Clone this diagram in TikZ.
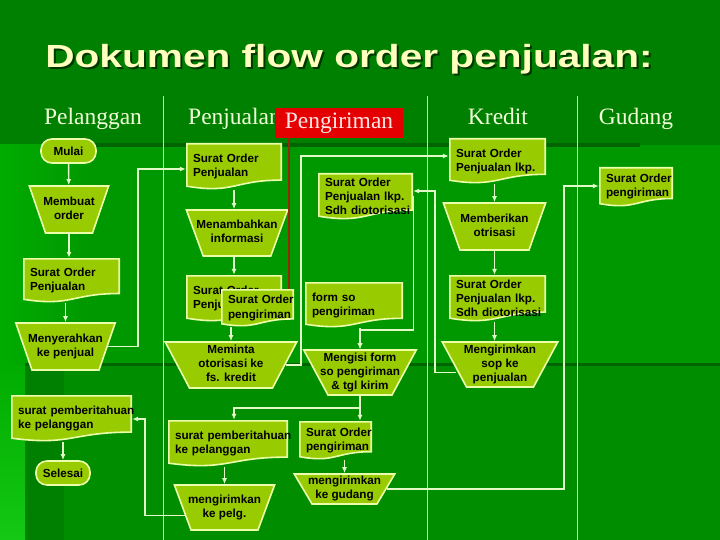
\documentclass[tikz,border=0pt]{standalone}
\usepackage{fontspec}
\setsansfont{Liberation Sans}
\newfontfamily\headfont{Liberation Serif}
\usepackage{graphicx}
\usepackage{xcolor}
\usepackage{tikz}
\usetikzlibrary{arrows.meta, positioning, shapes.geometric, calc}

\definecolor{boxfill}{RGB}{153,204,0}
\definecolor{boxline}{RGB}{235,255,170}
\definecolor{wire}{RGB}{225,250,200}
\definecolor{laneline}{RGB}{200,235,140}
\definecolor{headtxt}{RGB}{240,255,215}
\definecolor{titletxt}{RGB}{255,255,190}
\definecolor{titleshade}{RGB}{0,55,0}
\definecolor{redbox}{RGB}{228,0,0}
\definecolor{redtxt}{RGB}{255,228,228}
\definecolor{pointer}{RGB}{150,40,10}
\definecolor{bgtop}{RGB}{0,128,0}
\definecolor{bgbody}{RGB}{0,152,0}
\definecolor{bglow}{RGB}{0,142,0}
\definecolor{bgdeep}{RGB}{0,128,0}
\definecolor{bgleft}{RGB}{0,172,0}
\definecolor{bgbright}{RGB}{20,200,20}
\definecolor{bgstripe}{RGB}{0,100,0}

% text of a process box, centred on a box as wide as its short side
\newcommand\midtext[2]{\hbox to #1{\hss\begin{tabular}{@{}c@{}}#2\end{tabular}\hss}}

\begin{document}
\begin{tikzpicture}[
    x=1pt, y=-1pt,
    boxtext/.style={font=\sffamily\bfseries\fontsize{11.7}{14}\selectfont, text=black},
    docpath/.style={fill=boxfill, draw=boxline, line width=1.6pt},
    doc/.style n args={3}{rectangle, boxtext, minimum width=#1, minimum height=#2,
      text width=#3, align=left, inner xsep=7pt, inner ysep=0pt,
      execute at begin node={\hyphenpenalty=10000\exhyphenpenalty=10000},
      path picture={
        \coordinate (pa) at ([shift={(0.8pt,-0.8pt)}]path picture bounding box.north west);
        \coordinate (pb) at ([shift={(-0.8pt,0.8pt)}]path picture bounding box.south east);
        \coordinate (pc) at (pa -| pb);
        \coordinate (pd) at (pa |- pb);
        \coordinate (pt) at ($(pa)!0.5!(pc)$);
        \coordinate (pm) at ($(pd)!0.5!(pb)$);
        \filldraw[docpath] (pa) -- (pc) -- ($(pc)!0.8!(pb)$)
          .. controls ($(pt)!0.8!(pm)$) and ($(pt)!1.107!(pm)$) .. ($(pa)!0.934!(pd)$) -- cycle;
      }},
    proc/.style 2 args={trapezium, trapezium stretches=true, shape border rotate=180,
      minimum width=#1, minimum height=#2, inner sep=0pt, boxtext,
      fill=boxfill, draw=boxline, line width=1.6pt},
    term/.style 2 args={rectangle, rounded corners=11pt, minimum width=#1, minimum height=#2,
      inner sep=0pt, boxtext, fill=boxfill, draw=boxline, line width=1.6pt},
    flow/.style={draw=wire, line width=1.4pt, -{Latex[length=6pt,width=5pt]}},
    lane/.style={draw=laneline, line width=0.8pt},
    head/.style={font=\headfont\fontsize{23.5}{26}\selectfont, text=headtxt, inner sep=0pt, anchor=base},
    redhead/.style={font=\headfont\fontsize{23.5}{26}\selectfont, text=redtxt, fill=redbox,
      minimum width=128pt, minimum height=30pt, inner sep=0pt},
    judul/.style={font=\sffamily\bfseries\fontsize{32}{36}\selectfont, inner sep=0pt, anchor=base}
  ]
  \useasboundingbox (0,0) rectangle (720,540);

  \fill[bgtop] (0,0) rectangle (720,540);
  \fill[bgbody] (0,145) rectangle (720,540);
  \shade[left color=bgleft, right color=bgbody] (0,145) rectangle (90,365);
  \fill[bglow] (25,365) rectangle (720,540);
  \fill[bgdeep] (25,365) rectangle (64,540);
  \shade[top color=bgleft, bottom color=bgbright] (0,365) rectangle (25,540);
  \fill[bgstripe] (92,143) rectangle (640,147);
  \fill[bgstripe] (25,363) rectangle (720,366);

  \node[judul, text=titleshade] (judulBayang) at (351,70) {\scalebox{1.27}[1]{Dokumen flow order penjualan:}};
  \node[judul, text=titletxt] (judulUtama) at (349,68) {\scalebox{1.27}[1]{Dokumen flow order penjualan:}};

  \foreach \lx in {163,427,577}
    \draw[lane] (\lx,96) -- (\lx,540);

  \node[head] (hPlg) at (93,125) {Pelanggan};
  \node[head, anchor=base west] (hJual) at (188,125) {Penjualan};
  \node[head] (hKredit) at (498,125) {Kredit};
  \node[head] (hGudang) at (636,125) {Gudang};
  \node[redhead] (hKirim) at (339,123) {Pengiriman};

  \node[term={55pt}{24pt}] (mulai) at (68.5,151) {Mulai};
  \node[proc={66pt}{47pt}] (membuat) at (69,209.5) {\midtext{47pt}{Membuat\\order}};
  \node[doc={97pt}{45pt}{83pt}] (soPlg) at (71.5,280.5) {Surat Order\\Penjualan};
  \node[proc={97pt}{47pt}] (serah) at (65.5,346.5) {\midtext{67pt}{Menyerahkan\\ke penjual}};
  \node[doc={121pt}{47pt}{107pt}] (beritaPlg) at (71.5,418.5) {surat~pemberitahuan\\ke pelanggan};
  \node[term={54pt}{24pt}] (selesai) at (63,473) {Selesai};

  \node[doc={96pt}{47pt}{82pt}] (soJual) at (234,166.5) {Surat Order\\Penjualan};
  \node[proc={102pt}{46pt}] (tambah) at (237,233) {\midtext{65pt}{Menambahkan\\informasi}};
  \node[doc={96pt}{47pt}{82pt}] (soJual2) at (234,298.5) {Surat Order\\Penjualan};
  \node[doc={73pt}{38pt}{59pt}] (soKirimJual) at (257.5,308) {Surat~Order\\pengiriman};
  \node[proc={126pt}{46pt}] (minta) at (231,365) {\midtext{83pt}{Meminta\\otorisasi ke\\fs. kredit}};
  \node[doc={120pt}{47pt}{106pt}] (beritaJual) at (228,443.5) {surat~pemberitahuan\\ke pelanggan};
  \node[proc={101pt}{45pt}] (kirimPelg) at (224.5,507.5) {\midtext{65pt}{mengirimkan\\ke pelg.}};

  \node[doc={95pt}{47pt}{81pt}] (soSdh) at (365.5,196.5) {Surat Order\\Penjualan~lkp.\\Sdh~diotorisasi};
  \node[doc={98pt}{46pt}{84pt}] (formSo) at (354,305) {form so\\pengiriman};
  \node[proc={103pt}{45pt}] (isi) at (360,372.5) {\midtext{64pt}{Mengisi form\\so pengiriman\\\& tgl kirim}};
  \node[doc={73pt}{39pt}{59pt}] (soKirim) at (335.5,440.5) {Surat~Order\\pengiriman};
  \node[proc={101pt}{30pt}] (kirimGdg) at (344.5,489) {\midtext{59pt}{mengirimkan\\ke gudang}};

  \node[doc={97pt}{46pt}{83pt}] (soLkp) at (497.5,161) {Surat Order\\Penjualan~lkp.};
  \node[proc={103pt}{47pt}] (beri) at (494.5,226.5) {\midtext{67pt}{Memberikan\\otrisasi}};
  \node[doc={97pt}{47pt}{83pt}] (soLkpSdh) at (497.5,298.5) {Surat Order\\Penjualan~lkp.\\Sdh~diotorisasi};
  \node[proc={102pt}{45pt}] (kirimSop) at (500,364.5) {\midtext{67pt}{Mengirimkan\\sop ke\\penjualan}};

  \node[doc={74pt}{40pt}{60pt}] (soGdg) at (636,187) {Surat~Order\\pengiriman};

  \draw[pointer, line width=1.8pt] ([xshift=-50pt]hKirim.south) -- ([xshift=-50pt]hKirim.south |- soKirimJual.north);

  \coordinate (b1) at (138,169);
  \coordinate (b2) at (301,156);
  \coordinate (b3) at (435,191);
  \coordinate (b4) at (414,330);
  \coordinate (b5) at (234,408);
  \coordinate (b6) at (145,419);
  \coordinate (b7) at (564,186);

  \draw[flow] (mulai) -- (membuat);
  \draw[flow] (membuat.south) -- (membuat.south |- soPlg.north);
  \draw[flow] (serah.north |- soPlg.south) -- (serah.north);
  \draw[flow] (serah.east) -| (b1) -- (b1 -| soJual.west);
  \draw[flow] (soJual.south) -- (soJual.south |- tambah.north);
  \draw[flow] (soJual2.north |- tambah.south) -- (soJual2.north);
  \draw[flow] (minta.north |- soKirimJual.south) -- (minta.north);
  \draw[flow] (minta.east) -| (b2) -- (b2 -| soLkp.west);
  \draw[flow] (beri.north |- soLkp.south) -- (beri.north);
  \draw[flow] (beri.south) -- (beri.south |- soLkpSdh.north);
  \draw[flow] (beri.south |- soLkpSdh.south) -- (beri.south |- kirimSop.north);
  \draw[flow] ([shift={(3pt,-8pt)}]kirimSop.west) -| (b3) -- (b3 -| soSdh.east);
  \draw[flow] (soSdh.east) -- (soSdh.east |- b4) -| (isi.north);
  \draw[flow] (isi.north |- formSo.south) -- (isi.north);
  \draw[flow] (isi.south) -- (isi.south |- soKirim.north);
  \draw[flow] (isi.south |- b5) -- (b5) -- (b5 |- beritaJual.north);
  \draw[flow] (kirimPelg.north |- beritaJual.south) -- (kirimPelg.north);
  \draw[flow] ([shift={(3pt,-8pt)}]kirimPelg.west) -| (b6) -- (b6 -| beritaPlg.east);
  \draw[flow] (selesai.north |- beritaPlg.south) -- (selesai.north);
  \draw[flow] (kirimGdg.north |- soKirim.south) -- (kirimGdg.north);
  \draw[flow] (kirimGdg.east) -| (b7) -- (b7 -| soGdg.west);
\end{tikzpicture}
\end{document}
